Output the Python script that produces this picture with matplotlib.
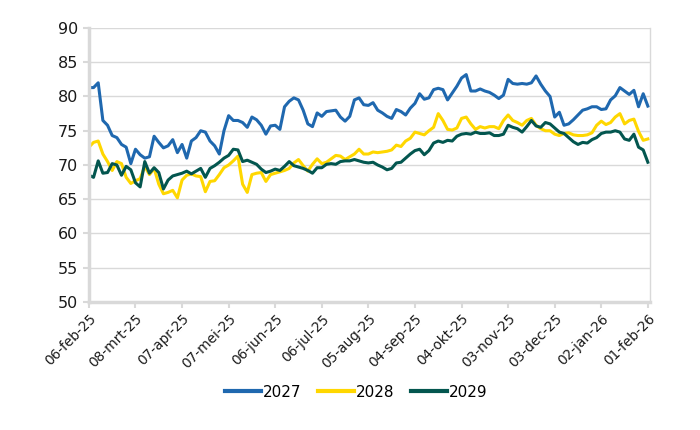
import matplotlib
matplotlib.use("Agg")
import matplotlib.pyplot as plt
import numpy as np
import pandas as pd

start = "2025-02-06"
step_days = 3

y2027 = [81.3, 81.3, 82.0, 76.5, 75.8, 74.3, 74.0, 73.0, 72.6, 70.2,
         72.3, 71.5, 71.0, 71.2, 74.2, 73.3, 72.5, 72.8, 73.7, 71.8,
         73.0, 71.0, 73.5, 74.0, 75.0, 74.8, 73.5, 72.8, 71.6, 75.0,
         77.2, 76.5, 76.5, 76.2, 75.5, 77.0, 76.6, 75.8, 74.5, 75.7,
         75.8, 75.2, 78.5, 79.3, 79.8, 79.5, 78.0, 76.0, 75.6, 77.6,
         77.1, 77.8, 77.9, 78.0, 77.0, 76.4, 77.1, 79.5, 79.8, 78.8,
         78.7, 79.1, 78.0, 77.6, 77.1, 76.8, 78.1, 77.8, 77.3, 78.3,
         79.0, 80.4, 79.6, 79.8, 81.0, 81.2, 81.0, 79.5, 80.5, 81.5,
         82.7, 83.2, 80.8, 80.8, 81.1, 80.8, 80.6, 80.2, 79.7, 80.2,
         82.5, 81.9, 81.8, 81.9, 81.8, 82.0, 83.0, 81.8, 80.8, 80.0,
         77.0, 77.7, 75.8, 76.0, 76.6, 77.3, 78.0, 78.2, 78.5, 78.5,
         78.1, 78.2, 79.5, 80.1, 81.3, 80.8, 80.3, 80.9, 78.5, 80.4,
         78.6]

y2028 = [72.6, 73.3, 73.5, 71.6, 70.5, 69.2, 70.5, 70.2, 68.2, 67.3,
         67.7, 68.0, 69.8, 68.6, 69.5, 67.2, 65.8, 66.0, 66.3, 65.2,
         67.8, 68.5, 68.7, 68.4, 68.3, 66.1, 67.6, 67.7, 68.6, 69.6,
         70.0, 70.6, 71.3, 67.2, 66.0, 68.6, 68.8, 68.9, 67.6, 68.6,
         68.8, 69.0, 69.2, 69.5, 70.3, 70.8, 69.9, 69.1, 70.1, 70.9,
         70.2, 70.4, 70.9, 71.4, 71.3, 70.8, 71.2, 71.6, 72.3, 71.6,
         71.6, 71.9, 71.8, 71.9, 72.0, 72.2, 72.9, 72.7, 73.5, 73.9,
         74.8, 74.6, 74.4, 75.0, 75.5, 77.5, 76.5, 75.2, 75.1, 75.4,
         76.8, 77.0, 76.0, 75.2, 75.6, 75.4, 75.6, 75.6, 75.3, 76.5,
         77.3, 76.5, 76.2, 75.8, 76.5, 76.8, 75.8, 75.3, 75.0, 75.0,
         74.5, 74.3, 74.6, 74.7, 74.4, 74.3, 74.3, 74.4, 74.7, 75.8,
         76.4, 75.9, 76.2, 77.0, 77.5, 76.0, 76.5, 76.7, 74.9, 73.6,
         73.8]

y2029 = [68.5, 68.2, 70.6, 68.8, 68.9, 70.2, 70.0, 68.5, 69.8, 69.3,
         67.4, 66.8, 70.5, 68.8, 69.6, 68.9, 66.5, 67.8, 68.4, 68.6,
         68.8, 69.1, 68.7, 69.1, 69.5, 68.2, 69.5, 69.9, 70.4, 71.0,
         71.4, 72.3, 72.2, 70.5, 70.7, 70.4, 70.1, 69.4, 68.9, 69.1,
         69.4, 69.2, 69.8, 70.5, 69.9, 69.7, 69.5, 69.2, 68.8, 69.6,
         69.6, 70.1, 70.2, 70.1, 70.5, 70.6, 70.6, 70.8, 70.6, 70.4,
         70.3, 70.4, 70.0, 69.7, 69.3, 69.5, 70.3, 70.4, 71.0, 71.6,
         72.1, 72.3, 71.5, 72.1, 73.2, 73.5, 73.3, 73.6, 73.5, 74.2,
         74.5, 74.6, 74.5, 74.8, 74.6, 74.6, 74.7, 74.3, 74.3, 74.5,
         75.8, 75.5, 75.3, 74.8, 75.6, 76.5, 75.7, 75.5, 76.2, 76.0,
         75.4, 74.8, 74.6, 74.0, 73.4, 73.0, 73.3, 73.2, 73.7, 74.0,
         74.6, 74.8, 74.8, 75.0, 74.8, 73.8, 73.6, 74.5, 72.6, 72.2,
         70.4]

series_names = ["2027", "2028", "2029"]
series_colors = ["#1F68AF", "#FFD700", "#03564F"]

tick_labels = ["06-feb-25", "08-mrt-25", "07-apr-25", "07-mei-25", "06-jun-25",
               "06-jul-25", "05-aug-25", "04-sep-25", "04-okt-25", "03-nov-25",
               "03-dec-25", "02-jan-26", "01-feb-26"]
y_ticks = [50, 55, 60, 65, 70, 75, 80, 85, 90]

plt.rcParams['font.family'] = ['DejaVu Sans']

dates = pd.date_range(start, periods=len(y2027), freq=f"{step_days}D")
tick_dates = pd.date_range(start, periods=len(tick_labels), freq="30D")

fig = plt.figure(figsize=(7, 4.3), dpi=100)
ax = fig.add_axes([0.127, 0.2977, 0.8014, 0.6372])

for name, vals, col in zip(series_names, [y2027, y2028, y2029], series_colors):
    ax.plot(dates, vals, color=col, lw=2.2, label=name, solid_joinstyle='round')

ax.set_ylim(50, 90)
ax.set_yticks(y_ticks)
ax.set_xlim(pd.Timestamp(start), pd.Timestamp(start) + pd.Timedelta(days=361.3))
ax.set_xticks(tick_dates)
ax.set_xticklabels(tick_labels, rotation=45, ha='right', rotation_mode='anchor')

ax.grid(axis='y', color='#d9d9d9', lw=1)
ax.set_axisbelow(True)
for s in ['left', 'bottom']:
    ax.spines[s].set_color('#d9d9d9')
    ax.spines[s].set_linewidth(2.5)
ax.spines['right'].set_color('#d9d9d9')
ax.spines['right'].set_linewidth(1)
ax.spines['top'].set_visible(False)
ax.tick_params(axis='both', colors='#d9d9d9', labelcolor='#1a1a1a', width=1.5, length=4)
ax.tick_params(axis='y', labelsize=11.5, pad=4)
ax.tick_params(axis='x', labelsize=9.8, pad=3)

leg = fig.legend(loc='center', bbox_to_anchor=(0.509, 0.088), ncol=3, frameon=False,
                 fontsize=11, handlelength=2.35, handletextpad=0.15, columnspacing=1.05)
for h in leg.get_lines():
    h.set_linewidth(3)

fig.savefig("out.png", dpi=100)
